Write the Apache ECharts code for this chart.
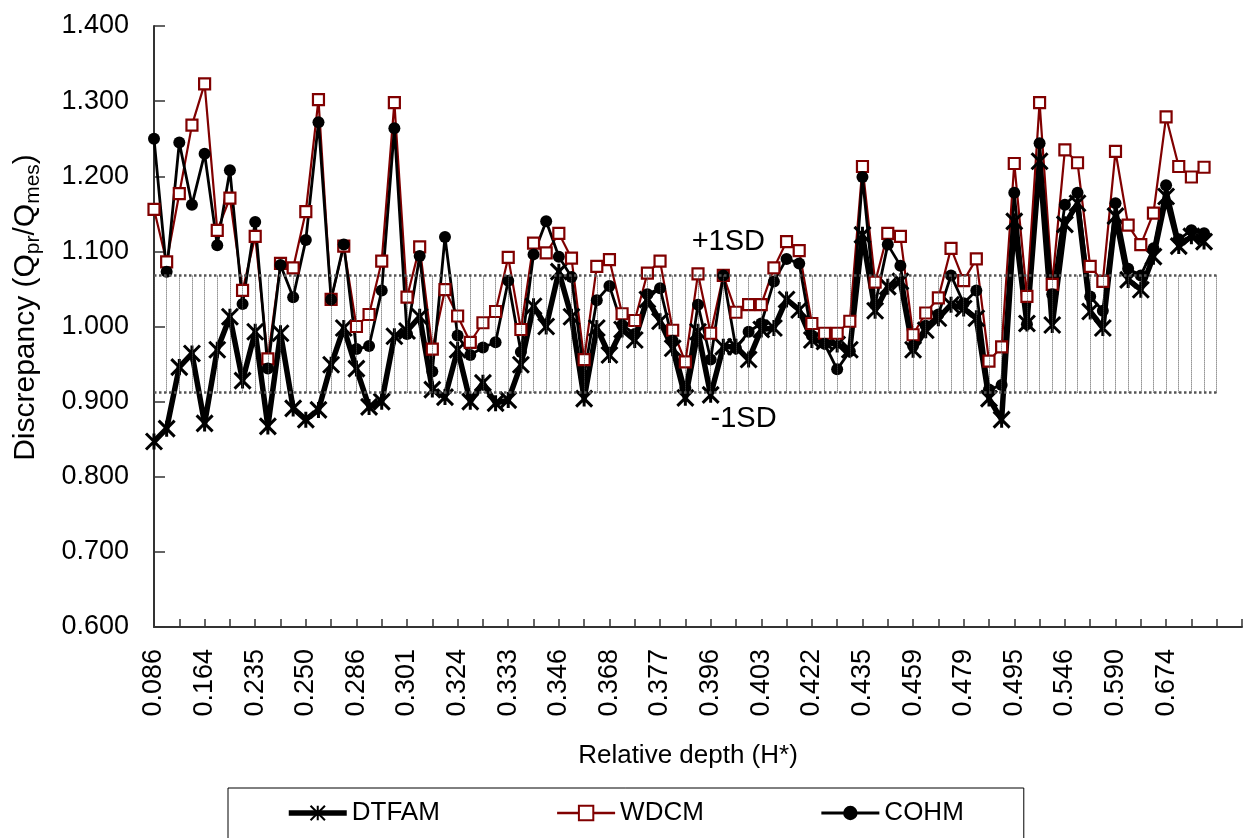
<!DOCTYPE html>
<html>
<head>
<meta charset="utf-8">
<script src="https://cdn.jsdelivr.net/npm/echarts/dist/echarts.min.js"></script>
<style>
  html, body { margin: 0; padding: 0; background: #fff; }
  #myChart { width: 1250px; height: 838px; }
</style>
</head>
<body>
<div id="myChart"></div>
<script>
  // depth labels shown on the axis (every 4th point)
  const depthLabels = ['0.086', '0.164', '0.235', '0.250', '0.286', '0.301', '0.324', '0.333', '0.346', '0.368', '0.377',
    '0.396', '0.403', '0.422', '0.435', '0.459', '0.479', '0.495', '0.546', '0.590', '0.674'];
  const yTicks = ['0.600', '0.700', '0.800', '0.900', '1.000', '1.100', '1.200', '1.300', '1.400'];

  const dtfam = [0.847, 0.864, 0.946, 0.964, 0.871, 0.969, 1.013, 0.928, 0.993, 0.867,
    0.991, 0.891, 0.876, 0.889, 0.949, 0.998, 0.944, 0.893, 0.900, 0.987,
    0.994, 1.013, 0.916, 0.906, 0.969, 0.900, 0.925, 0.898, 0.902, 0.949,
    1.027, 1.000, 1.073, 1.013, 0.904, 0.998, 0.962, 0.996, 0.982, 1.036,
    1.007, 0.971, 0.905, 0.993, 0.909, 0.973, 0.973, 0.956, 0.996, 0.998,
    1.036, 1.022, 0.982, 0.980, 0.976, 0.969, 1.122, 1.021, 1.053, 1.060,
    0.969, 0.995, 1.011, 1.029, 1.024, 1.011, 0.904, 0.876, 1.140, 1.004,
    1.220, 1.002, 1.136, 1.164, 1.020, 0.998, 1.147, 1.062, 1.049, 1.093,
    1.173, 1.107, 1.120, 1.113];

  const wdcm = [1.156, 1.086, 1.177, 1.268, 1.323, 1.128, 1.171, 1.048, 1.120, 0.957,
    1.084, 1.078, 1.153, 1.302, 1.036, 1.107, 1.000, 1.016, 1.087, 1.298,
    1.039, 1.106, 0.970, 1.049, 1.014, 0.979, 1.005, 1.020, 1.092, 0.996,
    1.111, 1.098, 1.124, 1.091, 0.956, 1.080, 1.089, 1.017, 1.008, 1.071,
    1.087, 0.995, 0.953, 1.070, 0.991, 1.068, 1.019, 1.029, 1.029, 1.078,
    1.113, 1.101, 1.004, 0.991, 0.991, 1.007, 1.213, 1.059, 1.124, 1.120,
    0.989, 1.018, 1.038, 1.104, 1.061, 1.090, 0.954, 0.973, 1.217, 1.040,
    1.298, 1.056, 1.235, 1.218, 1.080, 1.060, 1.233, 1.135, 1.109, 1.151,
    1.279, 1.213, 1.199, 1.212];

  const cohm = [1.250, 1.073, 1.245, 1.162, 1.230, 1.108, 1.208, 1.030, 1.139, 0.944,
    1.082, 1.039, 1.115, 1.272, 1.036, 1.109, 0.970, 0.974, 1.048, 1.264,
    0.990, 1.094, 0.940, 1.119, 0.988, 0.962, 0.972, 0.979, 1.061, 0.966,
    1.096, 1.140, 1.093, 1.066, 0.935, 1.035, 1.054, 1.002, 0.990, 1.043,
    1.051, 0.981, 0.918, 1.029, 0.956, 1.068, 0.971, 0.993, 1.004, 1.060,
    1.090, 1.084, 0.988, 0.977, 0.943, 0.967, 1.199, 1.029, 1.109, 1.081,
    0.974, 1.001, 1.016, 1.068, 1.031, 1.048, 0.916, 0.922, 1.178, 1.003,
    1.244, 1.043, 1.162, 1.178, 1.040, 1.021, 1.164, 1.077, 1.068, 1.104,
    1.188, 1.116, 1.128, 1.124];

  // mean +/- 1 standard deviation
  const sdBand = [0.912, 1.068];

  const nCat = 87;
  const categories = [];
  for (let i = 0; i < nCat; i++) {
    categories.push(i % 4 === 0 && depthLabels[i / 4] ? depthLabels[i / 4] : '');
  }

  const font = "'Liberation Sans', Arial, sans-serif";
  const asterisk = 'path://M0,0L10,10M10,0L0,10M5,0L5,10';

  // vertical hatch lines inside the band
  const hatch = [];
  for (let i = 0; i <= 84; i++) {
    hatch.push([{coord: [i, sdBand[0]]}, {coord: [i, sdBand[1]]}]);
  }

  const chart1 = echarts.init(document.getElementById('myChart'));
  const option = {
    animation: false,
    backgroundColor: '#fff',
    textStyle: {fontFamily: font, color: '#000'},
    grid: {left: 154, right: 8, top: 26, bottom: 211, containLabel: false, outerBoundsMode: 'none'},
    legend: {
      data: [
        {name: 'DTFAM', lineStyle: {width: 5.5, color: '#000'}},
        {name: 'WDCM', lineStyle: {width: 2.5, color: '#800000'}},
        {name: 'COHM', lineStyle: {width: 3, color: '#000'}}
      ],
      left: 228,
      top: 788,
      padding: [12, 60, 30, 58],
      itemGap: 116,
      itemWidth: 58,
      itemHeight: 18,
      borderColor: '#000',
      borderWidth: 1,
      textStyle: {fontFamily: font, fontSize: 26, color: '#000'}
    },
    xAxis: {
      type: 'category',
      data: categories,
      boundaryGap: false,
      name: 'Relative depth (H*)',
      nameLocation: 'middle',
      nameGap: 116,
      nameTextStyle: {fontFamily: font, fontSize: 26, color: '#000', padding: [0, 20, 0, 0]},
      axisLine: {lineStyle: {color: '#333', width: 2}},
      axisTick: {inside: true, length: 8, interval: 1, lineStyle: {color: '#333', width: 1.5}},
      axisLabel: {interval: 3, rotate: 90, margin: 22, fontFamily: font, fontSize: 27, color: '#000'},
      splitLine: {show: false}
    },
    yAxis: {
      type: 'value',
      min: 0.6,
      max: 1.4,
      interval: 0.1,
      name: '{a|Discrepancy (Q}{b|pr}{a|/Q}{b|mes}{a|)}',
      nameLocation: 'middle',
      nameGap: 110,
      nameRotate: 90,
      nameTextStyle: {
        padding: [0, 0, 0, 38],
        rich: {
          a: {fontFamily: font, fontSize: 30, color: '#000', lineHeight: 36},
          b: {fontFamily: font, fontSize: 21, color: '#000', lineHeight: 17, verticalAlign: 'bottom'}
        }
      },
      axisLine: {show: true, lineStyle: {color: '#333', width: 2}},
      axisTick: {show: true, inside: true, length: 11, lineStyle: {color: '#333', width: 1.5}},
      axisLabel: {
        margin: 25, fontFamily: font, fontSize: 27, color: '#000',
        formatter: function (v) { return yTicks[Math.round((v - 0.6) * 10)]; }
      },
      splitLine: {show: false}
    },
    series: [
      {
        name: 'band',
        type: 'line',
        data: [],
        silent: true,
        markLine: {
          silent: true,
          symbol: 'none',
          label: {show: false},
          lineStyle: {color: '#555', type: 'dotted', width: 1},
          data: hatch.concat([
            [{coord: [0, sdBand[0]], lineStyle: {width: 2.5, type: 'dotted', color: '#555'}}, {coord: [84, sdBand[0]]}],
            [{coord: [0, sdBand[1]], lineStyle: {width: 2.5, type: 'dotted', color: '#555'}}, {coord: [84, sdBand[1]]}]
          ])
        },
        markPoint: {
          silent: true,
          symbol: 'circle',
          symbolSize: 1,
          itemStyle: {color: 'transparent'},
          label: {show: true, position: 'inside', formatter: '{b}', fontFamily: font, fontSize: 29, color: '#000'},
          data: [
            {name: '+1SD', coord: [45, 1.113], label: {offset: [5, 0]}},
            {name: '-1SD', coord: [47, 0.877], label: {offset: [-5, 0]}}
          ]
        }
      },
      {
        name: 'DTFAM',
        type: 'line',
        data: dtfam,
        showAllSymbol: true,
        symbol: asterisk,
        symbolSize: 16,
        lineStyle: {color: '#000', width: 5.5},
        itemStyle: {color: '#000', borderColor: '#000', borderWidth: 3}
      },
      {
        name: 'WDCM',
        type: 'line',
        data: wdcm,
        showAllSymbol: true,
        symbol: 'rect',
        symbolSize: 11,
        lineStyle: {color: '#800000', width: 2.2},
        itemStyle: {color: '#fff', borderColor: '#800000', borderWidth: 2.2}
      },
      {
        name: 'COHM',
        type: 'line',
        data: cohm,
        showAllSymbol: true,
        symbol: 'circle',
        symbolSize: 12,
        lineStyle: {color: '#000', width: 2.8},
        itemStyle: {color: '#000'}
      }
    ]
  };
  chart1.setOption(option);
</script>
</body>
</html>
